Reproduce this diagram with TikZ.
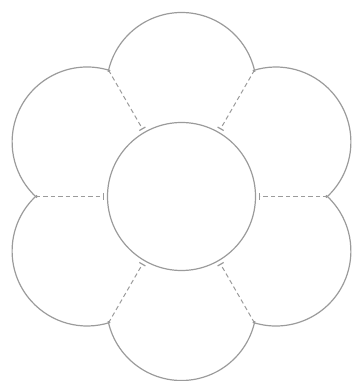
\documentclass[tikz,border=0pt]{standalone}
\usetikzlibrary{arrows.meta,calc}
\definecolor{ln}{RGB}{155,155,155}
\tikzset{
  petal/.style={draw=ln, line width=1.2pt},
  hub/.style={circle, draw=ln, line width=1.2pt, minimum size=148pt, inner sep=0pt},
  link/.style={draw=ln, line width=1pt, dash pattern=on 4.5pt off 3pt, -{Bar[width=7pt,line width=1.2pt]}, shorten >=3pt}
}
\begin{document}
\begin{tikzpicture}[x=1pt,y=1pt]
\useasboundingbox (0,0) rectangle (354,381);
\coordinate (C) at (181.5,184.5);
\node[hub] (c) at (C) {};
\foreach \i in {0,...,5}{
  \coordinate (k\i) at ($(C)+(\i*60:146)$);
  \coordinate (p\i) at ($(C)+(30+\i*60:109)$);
}
\foreach \i in {0,...,5}{
  \pgfmathsetmacro{\th}{30+60*\i}
  \draw[petal] ($(p\i)+(\th-78:75)$) arc[start angle=\th-78, end angle=\th+78, radius=75];
}
\foreach \i in {0,...,5}{
  \draw[link] (k\i) -- (c);
}
\end{tikzpicture}
\end{document}
